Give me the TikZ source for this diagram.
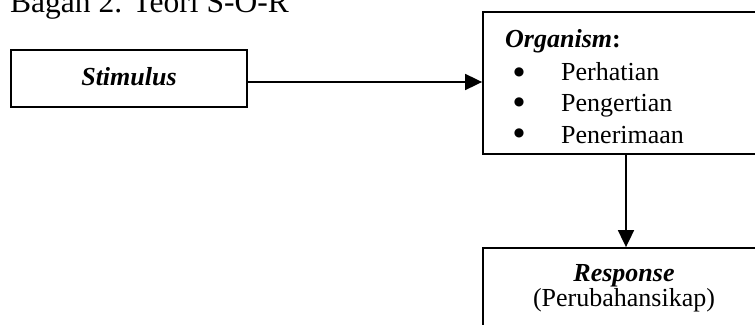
\documentclass[tikz,border=0pt]{standalone}
\usepackage{fontspec}
\setmainfont{Liberation Serif}
\newfontfamily\symfont{DejaVu Sans}
\usetikzlibrary{arrows.meta}
\tikzset{
  box/.style={draw, line width=1.8pt, rectangle, inner sep=0pt},
  arr/.style={line width=1.8pt, -{Triangle[length=17pt,width=16pt]}},
  txt/.style={inner sep=0pt, anchor=base west, font=\fontsize{26}{31}\selectfont},
  ctxt/.style={inner sep=0pt, anchor=base, font=\fontsize{26}{31}\selectfont},
  bul/.style={inner sep=0pt, anchor=center, font=\symfont\fontsize{12}{12}\selectfont},
}
\begin{document}
\begin{tikzpicture}[x=1pt, y=-1pt]
  \useasboundingbox (0,0) rectangle (755,324);
  \clip (0,0) rectangle (755,324);

  % heading
  \node[inner sep=0pt, anchor=base west, font=\fontsize{31.5}{36}\selectfont]
    (title) at (10,12.5) {Bagan 2. Teori S-O-R};

  % boxes
  \node[box, minimum width=236pt, minimum height=57pt] (stim) at (129,78.5) {};
  \node[box, minimum width=286pt, minimum height=142pt] (org) at (626,83) {};
  \node[box, minimum width=286pt, minimum height=110pt] (resp) at (626,303) {};

  % box contents
  \node[ctxt] (stimtxt) at (129,85) {\textbf{\textit{Stimulus}}};

  \node[txt] (orgtitle) at (505,47) {\textbf{\textit{Organism}:}};
  \node[bul] (b1) at (519,72) {●};
  \node[bul] (b2) at (519,102) {●};
  \node[bul] (b3) at (519,133.5) {●};
  \node[txt] (i1) at (561,80) {Perhatian};
  \node[txt] (i2) at (561,111.5) {Pengertian};
  \node[txt] (i3) at (561,143) {Penerimaan};

  \node[ctxt] (resptxt) at (624,281) {\textbf{\textit{Response}}};
  \node[ctxt] (respsub) at (624,306) {(Perubahansikap)};

  % connectors
  \coordinate (stimout) at (stim.east |- 0,82);
  \draw[arr] (stimout) -- (org.west |- stimout);
  \draw[arr] (org.south) -- (resp.north);
\end{tikzpicture}
\end{document}
